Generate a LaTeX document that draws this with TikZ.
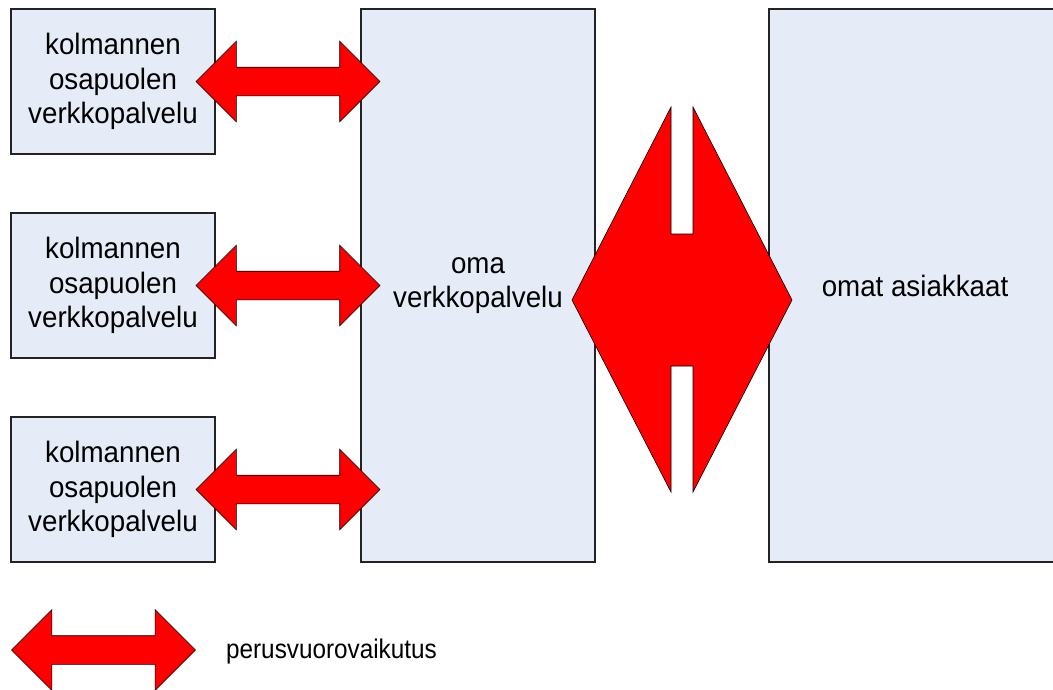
\documentclass[tikz,border=0pt]{standalone}
\usepackage{fontspec}
\setmainfont{Liberation Sans}
\usepackage{tikz}
\usetikzlibrary{shapes.arrows}
\usetikzlibrary{positioning}
\usetikzlibrary{calc}

\definecolor{boxblue}{RGB}{229,236,247}
\definecolor{edgegray}{RGB}{35,35,35}

\tikzset{
	palvelu/.style={draw=edgegray, line width=1.2pt, fill=boxblue, align=center,
		font=\addfontfeature{FakeStretch=0.94}\fontsize{29.5}{34.5}\selectfont},
	kolmas/.style={palvelu, minimum width=204pt, minimum height=145pt},
	vuoro/.style={double arrow, draw=black, fill=red, line width=0.6pt,
		minimum height=184pt, inner xsep=0pt, inner ysep=14pt,
		double arrow head extend=26pt, double arrow tip angle=90},
}

\begin{document}
\begin{tikzpicture}[x=1pt, y=-1pt]
		\useasboundingbox (0,0) rectangle (1053,689);
		\clip (0,0) rectangle (1053,689);

		% Services
		\node[kolmas] (k1) at (113, 81.5) {kolmannen\\osapuolen\\verkkopalvelu};
		\node[kolmas] (k2) at (113, 285.5) {kolmannen\\osapuolen\\verkkopalvelu};
		\node[kolmas] (k3) at (113, 489.5) {kolmannen\\osapuolen\\verkkopalvelu};
		\node[palvelu, minimum width=234pt, minimum height=553pt] (oma) at (478, 285.5)
			{oma\\verkkopalvelu};
		\node[palvelu, minimum width=292pt, minimum height=553pt] (asiakkaat) at (915, 285.5)
			{omat asiakkaat};

		% Basic interactions
		\foreach \k in {1,2,3}
			\node[vuoro] (v\k) at ($(k\k.east)!0.5!(oma.west |- k\k.east)$) {};

		% Wide interaction to the customers
		\coordinate (link) at ($(oma.east)!0.5!(asiakkaat.west) + (0,14.5)$);
		\draw[fill=red, line width=0.6pt, shift={(link)}]
			(-110,0) -- (-11,-193) -- (-11,-66) -- (11,-66) -- (11,-193) -- (110,0)
			-- (11,192) -- (11,66) -- (-11,66) -- (-11,192) -- cycle;

		% Legend
		\node[vuoro] (selite) at (103.5, 650) {};
		\node[right=30pt of selite, inner sep=0pt, yshift=-2pt,
			font=\addfontfeature{FakeStretch=0.9}\fontsize{27}{32}\selectfont] (selitys)
			{perusvuorovaikutus};
	\end{tikzpicture}
\end{document}
